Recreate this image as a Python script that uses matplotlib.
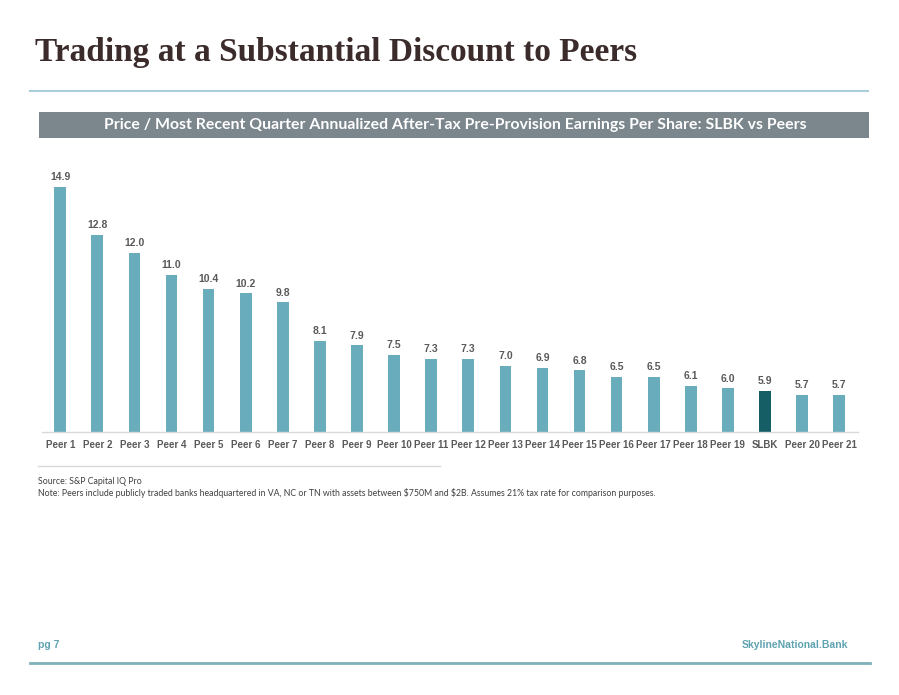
import matplotlib
matplotlib.use("Agg")
import matplotlib.pyplot as plt
from matplotlib.patches import Rectangle
from matplotlib.lines import Line2D

# data
labels = ["Peer 1", "Peer 2", "Peer 3", "Peer 4", "Peer 5", "Peer 6", "Peer 7",
          "Peer 8", "Peer 9", "Peer 10", "Peer 11", "Peer 12", "Peer 13", "Peer 14",
          "Peer 15", "Peer 16", "Peer 17", "Peer 18", "Peer 19", "SLBK",
          "Peer 20", "Peer 21"]
values = [14.9, 12.8, 12.0, 11.0, 10.4, 10.2, 9.8, 8.1, 7.9, 7.5, 7.3, 7.3,
          7.0, 6.9, 6.8, 6.5, 6.5, 6.1, 6.0, 5.9, 5.7, 5.7]
highlight = "SLBK"

W, H = 899, 695
fig = plt.figure(figsize=(W / 100, H / 100), dpi=100)


def fx(px):
    return px / W


def fy(py):
    return 1 - py / H


# title
fig.text(fx(35), fy(53), "Trading at a Substantial Discount to Peers",
         family="Liberation Serif", weight="bold", fontsize=24,
         color="#3b2b2b", va="center", ha="left")
fig.add_artist(Line2D([fx(30), fx(868)], [fy(91), fy(91)],
                      color="#a9cfdc", lw=1.5, transform=fig.transFigure))

# grey banner
fig.add_artist(Rectangle((fx(39), fy(138)), fx(869) - fx(39), fy(112) - fy(138),
                         transform=fig.transFigure, color="#7b868d", lw=0))
fig.text(fx(455), fy(125.5),
         "Price / Most Recent Quarter Annualized After-Tax Pre-Provision Earnings Per Share: SLBK vs Peers",
         family="Lato", weight="bold", fontsize=11.4, color="white",
         ha="center", va="center")

# bar chart
left, right = 41.65, 857.75
top, bottom = 170, 431.5
ax = fig.add_axes([fx(left), fy(bottom), fx(right - left), fy(top) - fy(bottom)])
x = range(len(labels))
colors = ["#165e66" if l == highlight else "#69adbc" for l in labels]
ax.bar(x, values, width=0.315, color=colors, bottom=0, zorder=2)
ax.set_xlim(-0.5, len(labels) - 0.5)
ax.set_ylim(4.1, 15.65)
for i, v in enumerate(values):
    ax.annotate(f"{v:.1f}", (i, v), xytext=(0, 3.5), textcoords="offset points",
                ha="center", va="bottom", fontsize=7.5, weight="bold",
                color="#595959", family="Liberation Sans")
ax.set_xticks(list(x))
ax.set_xticklabels(labels, fontsize=7, weight="bold", color="#595959",
                   family="Liberation Sans")
ax.tick_params(axis="x", length=0, pad=6)
ax.set_yticks([])
for s in ["top", "right", "left"]:
    ax.spines[s].set_visible(False)
ax.spines["bottom"].set_color("#d9d9d9")
ax.spines["bottom"].set_linewidth(1)
ax.set_facecolor("none")

# source notes
fig.add_artist(Line2D([fx(38), fx(440)], [fy(466), fy(466)],
                      color="#d9d9d9", lw=1, transform=fig.transFigure))
fig.text(fx(38), fy(481), "Source: S&P Capital IQ Pro", family="Lato",
         fontsize=6.3, color="#404040", va="center")
fig.text(fx(38), fy(493),
         "Note: Peers include publicly traded banks headquartered in VA, NC or TN with assets between \\$750M and \\$2B. Assumes 21% tax rate for comparison purposes.",
         family="Lato", fontsize=6.3, color="#404040", va="center")

# footer
fig.text(fx(38), fy(645), "pg 7", family="Liberation Sans", weight="bold",
         fontsize=7.5, color="#5fa3b0", va="center")
fig.text(fx(848), fy(645), "SkylineNational.Bank", family="Liberation Sans",
         weight="bold", fontsize=7.5, color="#5fa3b0", va="center", ha="right")
fig.add_artist(Line2D([fx(30), fx(870)], [fy(663), fy(663)],
                      color="#7fb0b8", lw=2, transform=fig.transFigure))

fig.savefig("out.png", dpi=100)
